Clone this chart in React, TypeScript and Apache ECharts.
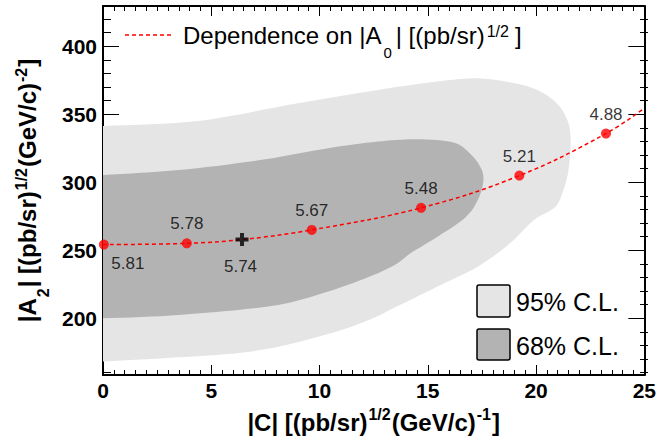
import React, { useEffect, useRef } from "react";
import * as echarts from "echarts";

// ---- data ----
const xRange = [0, 25];
const yRange = [158.3, 429.6];
const xTickInterval = 5;
const yMajorTicks = [200, 250, 300, 350, 400];
const yMinorTicks = [160, 170, 180, 190, 210, 220, 230, 240, 260, 270, 280, 290, 310, 320, 330, 340, 360, 370, 380, 390, 410, 420];

const pointX = [0.04, 3.87, 9.64, 14.69, 19.23, 23.23];
const pointY = [254.2, 255.1, 265.0, 281.2, 304.9, 335.8];
const pointLabels = ["5.81", "5.78", "5.67", "5.48", "5.21", "4.88"];

const bestX = 6.42;
const bestY = 257.9;
const bestLabel = "5.74";

const curveX = [0, 3.87, 6.42, 9.64, 14.69, 19.23, 23.23, 25];
const curveY = [254.2, 255.1, 257.9, 265.0, 281.2, 304.9, 335.8, 354.5];

const contour95 = [
  [0, 341.4], [4.4, 345.1], [9.0, 358.1], [12.7, 367.9], [15.0, 373.2], [17.3, 376.5],
  [19.4, 371.5], [20.35, 365.4], [21.1, 355.6], [21.5, 343.4], [21.6, 331.1], [21.5, 309.0],
  [21.27, 294.3], [20.9, 282.0], [19.9, 272.3], [18.8, 255.1], [17.3, 237.9], [15.76, 225.7],
  [14.2, 213.5], [13.6, 209.0], [12.7, 201.7], [11.6, 194.6], [10.4, 188.5], [8.1, 179.1],
  [6.3, 174.5], [3.5, 171.3], [0, 168.2],
];
const contour68 = [
  [0, 305.4], [3.5, 309.0], [7.5, 316.9], [10.4, 325.0], [12.7, 329.9], [14.5, 331.6],
  [16.3, 328.7], [17.1, 318.8], [17.5, 309.0], [17.57, 301.7], [17.44, 291.9], [17.11, 281.1],
  [16.6, 272.3], [15.45, 260.0], [14.2, 247.8], [13.6, 240.4], [12.7, 233.1],
  [10.4, 219.6], [8.1, 209.8], [3.5, 202.4], [0, 200.0],
];

const legend95 = "95% C.L.";
const legend68 = "68% C.L.";

// ---- styles ----
const FONT = '"Liberation Sans", Arial, Helvetica, sans-serif';
const C95 = "#e5e5e5";
const C68 = "#b3b3b3";
const RED = "#ff0000";

const titleRich = (supPad: number, subPad: number) => ({
  b: { fontSize: 24, fontWeight: "bold", fontFamily: FONT, color: "#000", verticalAlign: "middle" },
  sup: { fontSize: 16, fontWeight: "bold", fontFamily: FONT, color: "#000", verticalAlign: "middle", padding: [0, 1, supPad, 1] },
  sub: { fontSize: 16, fontWeight: "bold", fontFamily: FONT, color: "#000", verticalAlign: "middle", padding: [subPad, 1, 0, 1] },
});

export default function App() {
  const ref = useRef<HTMLDivElement>(null);

  useEffect(() => {
    if (!ref.current) return;
    const chart = echarts.init(ref.current, null, { renderer: "svg" });

    const frameLine = { show: true, onZero: false, lineStyle: { color: "#000", width: 2 } };
    const tickLine = { color: "#000", width: 1 };

    const xBase = {
      type: "value",
      min: xRange[0],
      max: xRange[1],
      interval: xTickInterval,
      axisLine: frameLine,
      axisTick: { show: true, inside: true, length: 10, lineStyle: tickLine },
      minorTick: { show: true, splitNumber: 10, length: 5, lineStyle: tickLine },
      splitLine: { show: false },
      minorSplitLine: { show: false },
    };

    const yBase = {
      type: "value",
      min: yRange[0],
      max: yRange[1],
      splitLine: { show: false },
    };

    const polygonSeries = (name: string, pts: number[][], color: string) => ({
      type: "custom",
      name,
      xAxisIndex: 0,
      yAxisIndex: 0,
      clip: true,
      data: [[0, 0]],
      renderItem: (_p: any, api: any) => {
        const px = pts.map((p) => api.coord(p));
        const first = px[0];
        const last = px[px.length - 1];
        // extend horizontally past the left frame (clipped) so smoothing keeps the corners clean
        const ring = [[first[0] - 30, first[1]], ...px, [last[0] - 30, last[1]]];
        return {
          type: "polygon",
          shape: { points: ring, smooth: 0.3 },
          style: { fill: color, stroke: null },
        };
      },
      z: 1,
    });

    const pointData = pointX.map((x, i) => {
      const first = i === 0;
      return {
        value: [x, pointY[i]],
        label: first
          ? { position: "bottom", distance: 5, offset: [24, 0] }
          : { position: "top", distance: 6 },
      };
    });

    const option: any = {
      animation: false,
      backgroundColor: "#fff",
      textStyle: { fontFamily: FONT },
      grid: [
        { left: 103, top: 6, width: 545, height: 369, containLabel: false },
        { left: 103, top: 6, width: 545, height: 369, containLabel: false },
      ],
      xAxis: [
        {
          ...xBase,
          gridIndex: 0,
          position: "bottom",
          axisLabel: { fontSize: 21, fontWeight: "bold", color: "#000", margin: 5, fontFamily: FONT },
          name: "{b||C| [(pb/sr)}{sup|1/2}{b|(GeV/c)}{sup|-1}{b|]}",
          nameLocation: "middle",
          nameGap: 31,
          nameTextStyle: { rich: titleRich(16, 0) },
        },
        {
          ...xBase,
          gridIndex: 0,
          position: "top",
          axisLabel: { show: false },
        },
        {
          type: "value",
          gridIndex: 1,
          min: xRange[0],
          max: xRange[1],
          show: false,
        },
      ],
      yAxis: [
        {
          ...yBase,
          gridIndex: 0,
          position: "left",
          axisLine: frameLine,
          axisTick: { show: true, inside: true, length: 16, lineStyle: tickLine, customValues: yMajorTicks },
          axisLabel: {
            customValues: yMajorTicks,
            fontSize: 21,
            fontWeight: "bold",
            color: "#000",
            margin: 6,
            fontFamily: FONT,
          },
          name: "{b||A}{sub|2}{b|| [(pb/sr)}{sup|1/2}{b|(GeV/c)}{sup|-2}{b|]}",
          nameLocation: "middle",
          nameRotate: 90,
          nameGap: 50,
          nameTextStyle: { rich: titleRich(12, 32) },
        },
        {
          ...yBase,
          gridIndex: 0,
          position: "right",
          axisLine: frameLine,
          axisTick: { show: true, inside: true, length: 16, lineStyle: tickLine, customValues: yMajorTicks },
          axisLabel: { show: false },
        },
        {
          ...yBase,
          gridIndex: 1,
          position: "left",
          axisLine: { show: false },
          axisTick: { show: true, inside: true, length: 8, lineStyle: tickLine, customValues: yMinorTicks },
          axisLabel: { show: false },
        },
        {
          ...yBase,
          gridIndex: 1,
          position: "right",
          axisLine: { show: false },
          axisTick: { show: true, inside: true, length: 8, lineStyle: tickLine, customValues: yMinorTicks },
          axisLabel: { show: false },
        },
      ],
      series: [
        polygonSeries(legend95, contour95, C95),
        polygonSeries(legend68, contour68, C68),
        {
          type: "line",
          name: "Dependence on |A0|",
          xAxisIndex: 0,
          yAxisIndex: 0,
          data: curveX.map((x, i) => [x, curveY[i]]),
          smooth: 0.4,
          showSymbol: false,
          symbol: "none",
          lineStyle: { color: RED, width: 1.5, type: [4, 3] },
          z: 3,
        },
        {
          type: "scatter",
          xAxisIndex: 0,
          yAxisIndex: 0,
          data: pointData,
          symbol: "circle",
          symbolSize: 10,
          itemStyle: { color: RED },
          label: {
            show: true,
            formatter: (p: any) => pointLabels[p.dataIndex],
            fontSize: 17,
            color: "#000",
            fontFamily: FONT,
          },
          z: 4,
        },
        {
          type: "scatter",
          xAxisIndex: 0,
          yAxisIndex: 0,
          data: [[bestX, bestY]],
          symbol: "path://M4.5,0H8.5V4.5H13V8.5H8.5V13H4.5V8.5H0V4.5H4.5Z",
          symbolSize: 13,
          itemStyle: { color: "#000" },
          label: {
            show: true,
            position: "bottom",
            distance: 12,
            offset: [-1.5, 0],
            formatter: () => bestLabel,
            fontSize: 17,
            color: "#000",
            fontFamily: FONT,
          },
          z: 5,
        },
      ],
      graphic: [
        {
          type: "line",
          shape: { x1: 125, y1: 35, x2: 173, y2: 35 },
          style: { stroke: RED, lineWidth: 1.5, lineDash: [4, 3] },
          z: 10,
        },
        {
          type: "text",
          x: 183,
          y: 35,
          style: {
            text: "Dependence on |A{sub|0}| [(pb/sr){sup|1/2}]",
            fontSize: 24,
            fontFamily: FONT,
            fill: "#000",
            verticalAlign: "middle",
            align: "left",
            rich: {
              sub: { fontSize: 15, fontFamily: FONT, fill: "#000", verticalAlign: "middle", padding: [34, 4, 0, 2] },
              sup: { fontSize: 16, fontFamily: FONT, fill: "#000", verticalAlign: "middle", padding: [0, 6, 8, 2] },
            },
          },
          z: 10,
        },
        {
          type: "rect",
          shape: { x: 477, y: 285, width: 33, height: 32, r: 2 },
          style: { fill: C95, stroke: "#000", lineWidth: 1.5 },
          z: 10,
        },
        {
          type: "text",
          x: 516,
          y: 301.5,
          style: { text: legend95, fontSize: 25, fontFamily: FONT, fill: "#000", verticalAlign: "middle", align: "left" },
          z: 10,
        },
        {
          type: "rect",
          shape: { x: 477, y: 329, width: 33, height: 31, r: 2 },
          style: { fill: C68, stroke: "#000", lineWidth: 1.5 },
          z: 10,
        },
        {
          type: "text",
          x: 516,
          y: 345.5,
          style: { text: legend68, fontSize: 25, fontFamily: FONT, fill: "#000", verticalAlign: "middle", align: "left" },
          z: 10,
        },
      ],
    };

    chart.setOption(option);
    return () => chart.dispose();
  }, []);

  return (
    <div
      ref={ref}
      style={{ position: "fixed", left: 0, top: 0, width: 659, height: 441, background: "#fff" }}
    />
  );
}
